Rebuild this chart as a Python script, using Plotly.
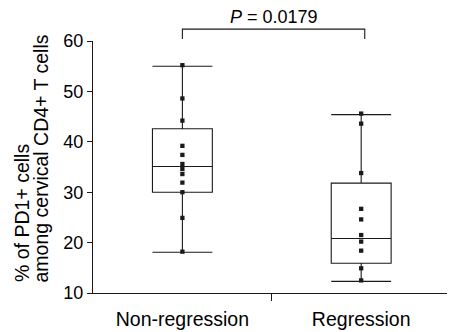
import plotly.graph_objects as go

# ---- data ----
categories = ["Non-regression", "Regression"]
nonreg_values = [55.2, 48.6, 44.2, 39.2, 37.4, 35.6, 34.6, 33.6, 31.9, 30.0, 24.9, 18.2]
reg_values = [45.6, 43.6, 33.8, 26.7, 24.6, 21.5, 20.2, 18.4, 14.9, 12.5]
box_q1 = [30.0, 15.9]
box_median = [35.1, 20.8]
box_q3 = [42.6, 31.8]
box_min = [18.1, 12.3]
box_max = [55.0, 45.4]
y_ticks = [10, 20, 30, 40, 50, 60]
p_text = "<i>P</i> = 0.0179"

FONT = "Arial, Liberation Sans, sans-serif"
INK = "#1a1a1a"

fig = go.Figure()
xpos = list(range(len(categories)))
for i in xpos:
    fig.add_trace(go.Box(
        x=[i], q1=[box_q1[i]], median=[box_median[i]], q3=[box_q3[i]],
        lowerfence=[box_min[i]], upperfence=[box_max[i]],
        width=0.335, whiskerwidth=1, fillcolor="rgba(255,255,255,0)",
        line=dict(color=INK, width=1.1), boxpoints=False, showlegend=False,
        hoverinfo="skip"))

for i, vals in enumerate([nonreg_values, reg_values]):
    fig.add_trace(go.Scatter(
        x=[i] * len(vals), y=vals, mode="markers",
        marker=dict(symbol="square", size=4.3, color=INK, line=dict(width=0)),
        showlegend=False))

# significance bracket
H, B = 1.047, 1.008
fig.add_shape(type="path", xref="x", yref="paper",
              path=f"M 0 {B} L 0 {H} L 1.02 {H} L 1.02 {B}",
              line=dict(color=INK, width=1.1))
fig.add_annotation(text=p_text, x=0.51, xref="x", y=1.095, yref="paper",
                   showarrow=False, font=dict(family=FONT, size=18, color="black"),
                   xanchor="center", yanchor="middle")

# y-axis title (two start-aligned rotated lines)
fig.add_annotation(text="% of PD1+ cells", xref="paper", yref="paper",
                   x=-0.201, y=0.035, textangle=-90, showarrow=False,
                   xanchor="center", yanchor="bottom",
                   font=dict(family=FONT, size=19.5, color="black"))
fig.add_annotation(text="among cervical CD4+ T cells", xref="paper", yref="paper",
                   x=-0.146, y=0.035, textangle=-90, showarrow=False,
                   xanchor="center", yanchor="bottom",
                   font=dict(family=FONT, size=19.5, color="black"))

fig.update_layout(
    width=449, height=332,
    margin=dict(l=93, r=2, t=41, b=36),
    plot_bgcolor="white", paper_bgcolor="white",
    font=dict(family=FONT, color="black"),
)
fig.update_xaxes(
    range=[-0.5, 1.48], tickvals=xpos, ticktext=categories,
    ticks="", showgrid=False, zeroline=False,
    showline=True, linecolor=INK, linewidth=1.2,
    tickfont=dict(family=FONT, size=19.5, color="black"),
    ticklabelstandoff=8,
    minor=dict(tickvals=[0.5], ticks="outside", ticklen=7, tickcolor=INK, tickwidth=1.2),
)
fig.update_yaxes(
    range=[10, 60], tickvals=y_ticks, ticks="outside", ticklen=5,
    tickcolor=INK, tickwidth=1.2, showgrid=False, zeroline=False,
    showline=True, linecolor=INK, linewidth=1.2,
    tickfont=dict(family=FONT, size=18, color="black"),
)

fig.write_html("out.html")
